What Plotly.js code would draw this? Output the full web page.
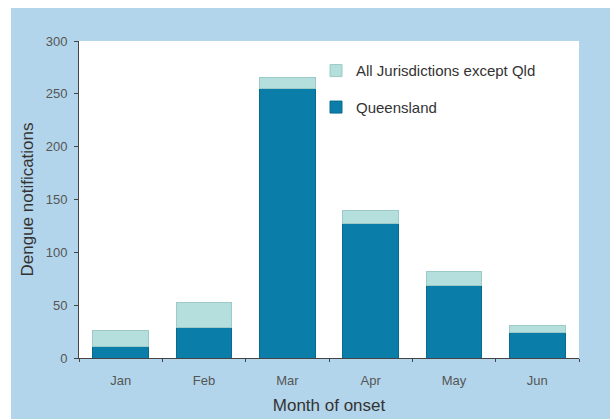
<!DOCTYPE html>
<html>
<head>
<meta charset="utf-8">
<script src="https://cdn.plot.ly/plotly-3.0.1.min.js"></script>
<style>html,body{margin:0;padding:0;background:#fff;}#chart{width:610px;height:419px;}</style>
</head>
<body>
<div id="chart"></div>
<script>
const months = ["Jan", "Feb", "Mar", "Apr", "May", "Jun"];
const queensland = [11, 29, 255, 127, 69, 24];
const otherJurisdictions = [15, 24, 10, 13, 13, 7];
const yTickValues = [0, 50, 100, 150, 200, 250, 300];
const seriesNames = ["Queensland", "All Jurisdictions except Qld"];

const font = "'Liberation Sans', Arial, sans-serif";

const traces = [
  {
    type: "bar", x: months, y: queensland, name: seriesNames[0], legendgroup: "b", legendrank: 2,
    marker: {color: "#0a7ea8", line: {color: "#0a6a8e", width: 1}}
  },
  {
    type: "bar", x: months, y: otherJurisdictions, name: seriesNames[1], legendgroup: "a", legendrank: 1,
    marker: {color: "#b4dfdc", line: {color: "#9ccac8", width: 1}}
  }
];

const layout = {
  width: 610, height: 419,
  margin: {l: 79, r: 31, t: 41, b: 61},
  paper_bgcolor: "#b3d5eb",
  plot_bgcolor: "#ffffff",
  barmode: "stack",
  bargap: 0.33,
  font: {family: font, color: "#444"},
  showlegend: true,
  legend: {
    x: 0.474, y: 0.958, xanchor: "left", yanchor: "top",
    bgcolor: "rgba(0,0,0,0)",
    traceorder: "grouped",
    tracegroupgap: 14,
    font: {family: font, size: 15, color: "#333"}
  },
  xaxis: {
    type: "category",
    showline: true, linecolor: "#444", linewidth: 1,
    ticks: "outside", ticklen: 3, tickcolor: "#444", tickson: "boundaries",
    ticklabelstandoff: 10,
    tickfont: {family: font, size: 13, color: "#555"},
    showgrid: false, zeroline: false, fixedrange: true,
    title: {text: "Month of onset", font: {family: font, size: 17, color: "#333"}, standoff: 12}
  },
  yaxis: {
    range: [0, 300], tickvals: yTickValues,
    showline: true, linecolor: "#444", linewidth: 1,
    ticks: "outside", ticklen: 4, tickcolor: "#444",
    ticklabelstandoff: 4,
    tickfont: {family: font, size: 13, color: "#555"},
    showgrid: false, zeroline: false,
    title: {text: "Dengue notifications", font: {family: font, size: 17, color: "#333"}, standoff: 7}
  },
  shapes: [
    {type: "rect", xref: "paper", yref: "paper", x0: -0.2, x1: -0.136, y0: -0.3, y1: 1.2, fillcolor: "#ffffff", line: {width: 0}, layer: "below"},
    {type: "rect", xref: "paper", yref: "paper", x0: -0.2, x1: 1.2, y0: 1.104, y1: 1.2, fillcolor: "#ffffff", line: {width: 0}, layer: "below"}
  ]
};

Plotly.newPlot("chart", traces, layout, {displayModeBar: false, staticPlot: true});
</script>
</body>
</html>
